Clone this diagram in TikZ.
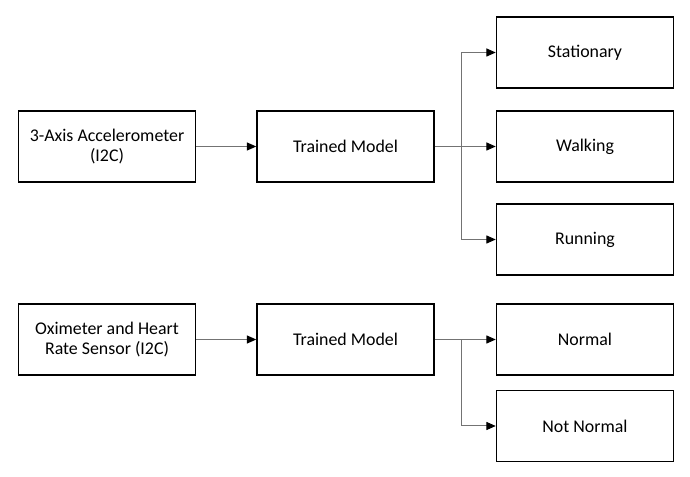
\documentclass[tikz,border=0pt]{standalone}
\usepackage{fontspec}
\setmainfont{Carlito}
\usetikzlibrary{arrows.meta}
\tikzstyle{block}=[draw=black, line width=1.1pt, minimum width=132.75pt, minimum height=53.25pt, align=center, inner sep=2pt, font=\fontsize{13.4}{14.8}\selectfont]
\tikzstyle{link}=[draw=black!55, line width=0.75pt, -{Triangle[color=black, length=7pt, width=6pt]}]

\begin{document}
\begin{tikzpicture}[x=0.75pt, y=-0.75pt]
		\useasboundingbox (0,0) rectangle (690,477);
		% accelerometer branch
		\node(acc) [block] at (107,146.5) {3-Axis Accelerometer\\(I2C)};
		\node(tm1) [block] at (345.5,146.5) {Trained Model};
		\node(stat) [block] at (585,52.5) {Stationary};
		\node(walk) [block] at (585,146.5) {Walking};
		\node(run) [block] at (585,239.5) {Running};
		\coordinate(split1) at (461,146.5);
		
		\draw[link] (acc) -- (tm1);
		\draw[link] (tm1) -- (walk);
		\draw[link] (split1) |- (stat);
		\draw[link] (split1) |- (run);
		
		% oximeter branch
		\node(oxi) [block] at (107,339.5) {Oximeter and Heart\\Rate Sensor (I2C)};
		\node(tm2) [block] at (345.5,339.5) {Trained Model};
		\node(norm) [block] at (585,339.5) {Normal};
		\node(notn) [block] at (585,426) {Not Normal};
		\coordinate(split2) at (461,339.5);
		
		\draw[link] (oxi) -- (tm2);
		\draw[link] (tm2) -- (norm);
		\draw[link] (split2) |- (notn);
		\end{tikzpicture}
\end{document}
